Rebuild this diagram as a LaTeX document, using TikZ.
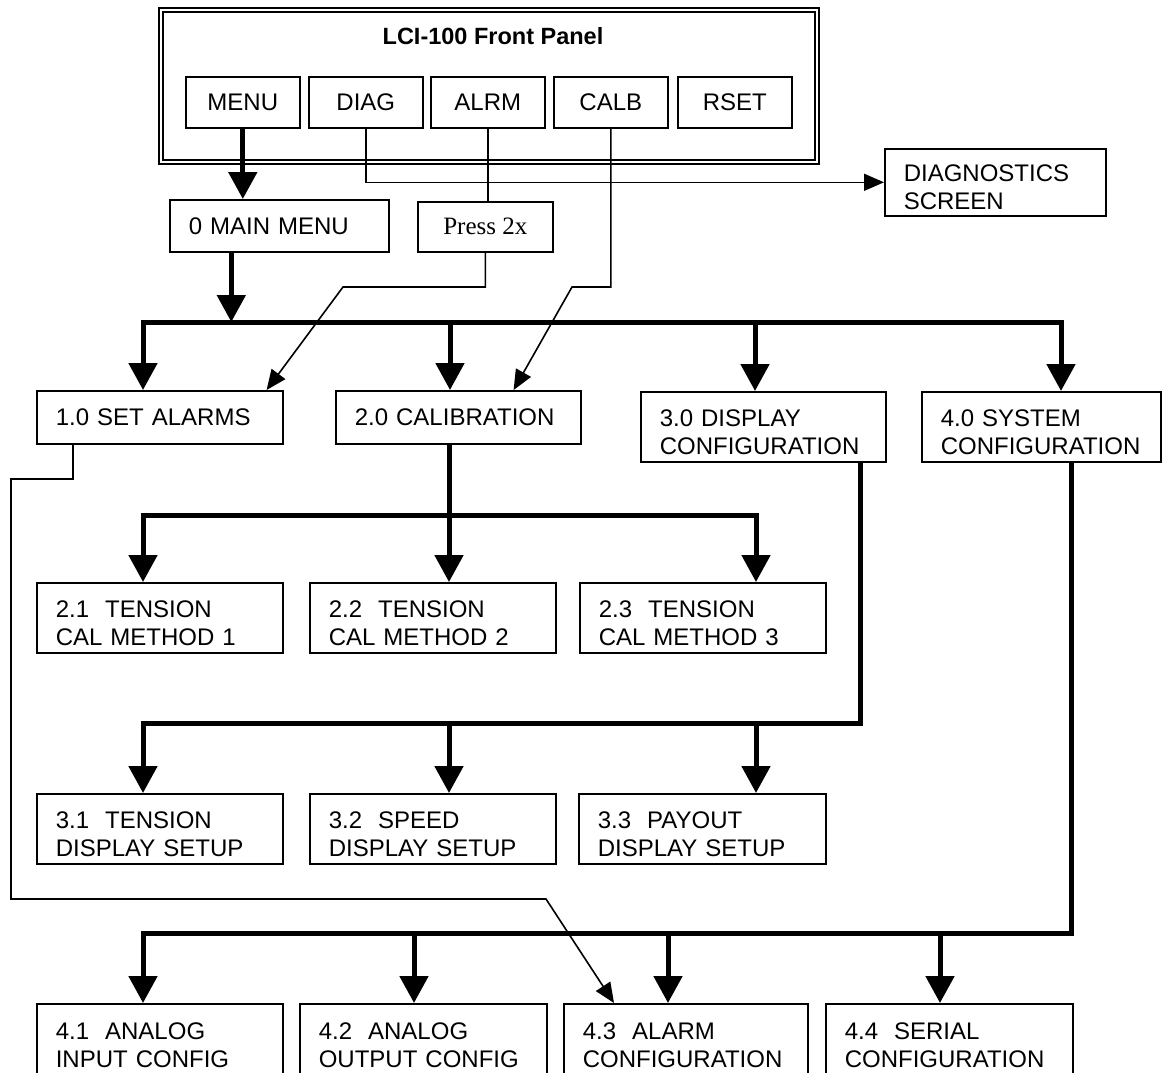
\documentclass[tikz,border=0pt]{standalone}
\usepackage{fontspec}
\setmainfont{Liberation Sans}
\newfontfamily\pressfont{Liberation Serif}
\usetikzlibrary{arrows.meta}

\tikzset{
  box/.style={draw, line width=1.6pt, anchor=north west, inner xsep=19pt, inner ysep=0pt, align=left, font=\fontsize{24}{28}\selectfont},
  twobox/.style={box, text height=27pt},
  key/.style={draw, line width=1.6pt, anchor=north west, minimum width=114pt, minimum height=51pt, inner sep=0pt, font=\fontsize{24}{28}\selectfont},
  trunk/.style={line width=5pt, >={Triangle[width=28pt,length=27pt]}},
  link/.style={line width=1.6pt, >={Triangle[width=17pt,length=20pt]}},
}

\begin{document}
\begin{tikzpicture}[x=1pt,y=-1pt]
  \useasboundingbox (0,0) rectangle (1162,1072);
  \fill[white] (0,0) rectangle (1162,1072);
  \clip (0,0) rectangle (1162,1072);

  % front panel
  \node[draw, double, line width=1.5pt, double distance=2.5pt, anchor=north west, minimum width=656pt, minimum height=152pt, inner sep=0pt] (panel) at (160,9) {};
  \node[font=\bfseries\fontsize{23.5}{28}\selectfont] (ttl) at (493,36) {LCI-100 Front Panel};
  \foreach \n/\x/\t in {menu/185/MENU, diag/308/DIAG, alrm/430/ALRM, calb/553/CALB, rset/677/RSET}
    \node[key] (\n) at (\x,76) {\t};

  % menus
  \node[box, text width=181pt, minimum height=52pt] (mainmenu) at (169,199) {0 MAIN MENU};
  \node[draw, line width=1.6pt, anchor=north west, minimum width=135pt, minimum height=50pt, inner sep=0pt, font=\pressfont\fontsize{25}{28}\selectfont] (press) at (417,201) {Press 2x};
  \node[twobox, text width=183pt, minimum height=67pt] (diagscr) at (884,148) {DIAGNOSTICS\\SCREEN};

  \node[box, text width=208pt, minimum height=53pt] (setalarms) at (36,390) {1.0 SET ALARMS};
  \node[box, text width=207pt, minimum height=53pt] (calib) at (335,390) {2.0 CALIBRATION};
  \node[twobox, text width=207pt, minimum height=70pt] (dispcfg) at (640,391) {3.0 DISPLAY\\CONFIGURATION};
  \node[twobox, text width=201pt, minimum height=70pt] (syscfg) at (921,391) {4.0 SYSTEM\\CONFIGURATION};

  \node[twobox, text width=208pt, minimum height=70pt] (t21) at (36,582) {2.1~~TENSION\\CAL METHOD 1};
  \node[twobox, text width=208pt, minimum height=70pt] (t22) at (309,582) {2.2~~TENSION\\CAL METHOD 2};
  \node[twobox, text width=208pt, minimum height=70pt] (t23) at (579,582) {2.3~~TENSION\\CAL METHOD 3};

  \node[twobox, text width=208pt, minimum height=70pt] (d31) at (36,793) {3.1~~TENSION\\DISPLAY SETUP};
  \node[twobox, text width=208pt, minimum height=70pt] (d32) at (309,793) {3.2~~SPEED\\DISPLAY SETUP};
  \node[twobox, text width=209pt, minimum height=70pt] (d33) at (578,793) {3.3~~PAYOUT\\DISPLAY SETUP};

  \node[twobox, text width=208pt, minimum height=72pt] (c41) at (36,1003) {4.1~~ANALOG\\INPUT CONFIG};
  \node[twobox, text width=209pt, minimum height=72pt] (c42) at (299,1003) {4.2~~ANALOG\\OUTPUT CONFIG};
  \node[twobox, text width=206pt, minimum height=72pt] (c43) at (563,1003) {4.3~~ALARM\\CONFIGURATION};
  \node[twobox, text width=209pt, minimum height=72pt] (c44) at (825,1003) {4.4~~SERIAL\\CONFIGURATION};

  % keys
  \draw[trunk,->] (menu.south) -- (menu.south |- mainmenu.north);
  \draw[link,->] (diag.south) |- (diagscr.west);
  \draw[link] (alrm.south) -- (alrm.south |- press.north);
  \coordinate (pbend) at (343,287);
  \draw[link,->] (press.south) |- (pbend) -- ([xshift=-17pt]setalarms.north east);
  \coordinate (cbend) at (572,287);
  \draw[link,->] (calb.south) |- (cbend) -- ([xshift=-68pt]calib.north east);

  % main menu
  \coordinate (mmout) at ([xshift=-48pt]mainmenu.south);
  \draw[trunk,->] (mmout) -- (mmout |- 0,322);
  \draw[trunk,<->] (143,0 |- setalarms.north) |- (1061,322) -- (1061,0 |- syscfg.north);
  \foreach \x/\n in {450/calib, 755/dispcfg}
    \draw[trunk,->] (\x,322) -- (\x,0 |- \n.north);

  % calibration
  \draw[trunk,->] (449,0 |- calib.south) -- (449,0 |- t22.north);
  \draw[trunk,<->] (143,0 |- t21.north) |- (756,515) -- (756,0 |- t23.north);

  % display
  \draw[trunk,->] (860,0 |- dispcfg.south) |- (143,723) -- (143,0 |- d31.north);
  \foreach \x/\n in {449/d32, 756/d33}
    \draw[trunk,->] (\x,723) -- (\x,0 |- \n.north);

  % system
  \draw[trunk,->] (1071,0 |- syscfg.south) |- (143,933) -- (143,0 |- c41.north);
  \foreach \x/\n in {414/c42, 668/c43, 940/c44}
    \draw[trunk,->] (\x,933) -- (\x,0 |- \n.north);

  % set alarms shortcut
  \coordinate (sabend1) at (11,479);
  \coordinate (sabend2) at (546,899);
  \draw[link,->] ([xshift=37pt]setalarms.south west) |- (sabend1) |- (sabend2) -- ([xshift=51pt]c43.north west);
\end{tikzpicture}
\end{document}
